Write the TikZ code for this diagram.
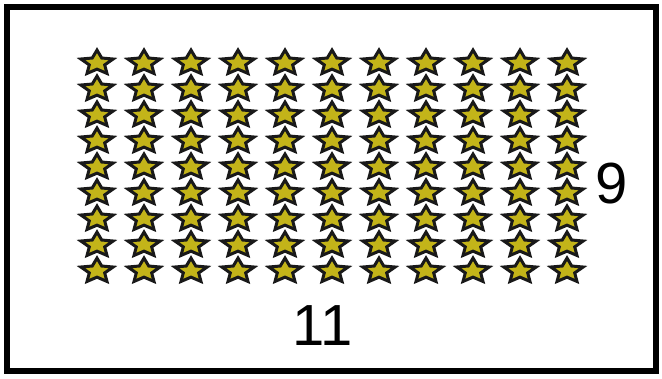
\documentclass[tikz,border=0pt]{standalone}
\usepackage{fontspec}
\setmainfont{Liberation Sans}
\usepackage{xcolor}
\usetikzlibrary{shapes.geometric}

\definecolor{staryellow}{RGB}{195,180,25}

\begin{document}
\begin{tikzpicture}[
  x=1pt, y=-1pt,
  frame/.style={draw, line width=6pt},
  staritem/.style={star, star points=5, star point ratio=2.1, draw=black!90, fill=staryellow,
                   line width=3pt, inner sep=0pt, minimum size=34pt, yscale=0.76, transform shape},
  count/.style={font=\fontsize{58}{60}\selectfont, inner sep=0pt}
]
\useasboundingbox (0,0) rectangle (662,378);
\draw[frame] (7,7) rectangle (656,371);

% 11 x 9 grid of stars
\foreach \c in {0,...,10}
  \foreach \r in {0,...,8}
    \node[staritem] (s-\c-\r) at (97+47*\c, 63+26*\r) {};

\node[count] (rows) at (612,184) {9};
\node[count] (cols) at (323,326) {11};
\end{tikzpicture}
\end{document}
